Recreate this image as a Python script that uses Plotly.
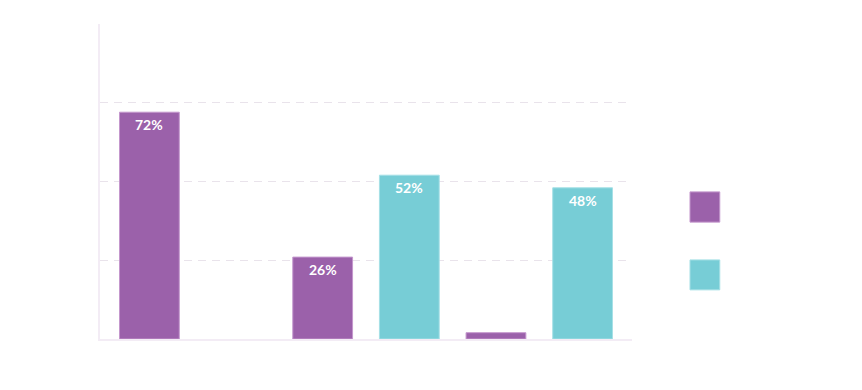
import plotly.graph_objects as go

categories = ["Group A", "Group B", "Group C"]
series1_name = "Series 1"
series1_values = [72, 26, 2]
series1_labels = ["72%", "26%", ""]
series2_name = "Series 2"
series2_values = [None, 52, 48]
series2_labels = ["", "52%", "48%"]
y_ticks = [25, 50, 75]

PURPLE = "#9b61aa"
PURPLE_LINE = "#c497cd"
CYAN = "#77cdd6"
CYAN_LINE = "#a6e0e6"

fig = go.Figure()
fig.add_trace(go.Bar(
    x=categories, y=series1_values, name=series1_name,
    marker=dict(color=PURPLE, line=dict(color=PURPLE_LINE, width=1)),
    showlegend=False,
))
fig.add_trace(go.Bar(
    x=categories, y=series2_values, name=series2_name,
    marker=dict(color=CYAN, line=dict(color=CYAN_LINE, width=1)),
    showlegend=False,
))

# value labels inside top of bars
for offset, vals, labels in [(-0.25, series1_values, series1_labels), (0.25, series2_values, series2_labels)]:
    for i, (v, lab) in enumerate(zip(vals, labels)):
        if v is None or not lab:
            continue
        fig.add_annotation(x=i + offset, y=v, xref="x", yref="y", text=lab,
                           showarrow=False, yanchor="top", yshift=-2,
                           font=dict(color="white", size=14, family="Lato", weight="bold"))

# legend swatches (no visible text in the reference)
for (y0, y1, c, lc) in [(0.371, 0.467, PURPLE, PURPLE_LINE), (0.156, 0.251, CYAN, CYAN_LINE)]:
    fig.add_shape(type="rect", xref="paper", yref="paper",
                  x0=1.109, x1=1.165, y0=y0, y1=y1,
                  fillcolor=c, line=dict(color=lc, width=1))

fig.update_layout(
    width=862, height=390,
    margin=dict(l=100, r=230, t=24, b=51),
    paper_bgcolor="white", plot_bgcolor="white",
    barmode="group", bargap=0, bargroupgap=0.31,
    font=dict(family="Lato", color="#555"),
    xaxis=dict(range=[-0.535, 2.535], showticklabels=False, showgrid=False,
               showline=True, linecolor="#f3ecf5", linewidth=2, zeroline=False, ticks=""),
    yaxis=dict(range=[0, 100], tickvals=y_ticks, showticklabels=False, showgrid=True,
               gridcolor="#e9e3eb", griddash="8px,6px", gridwidth=1,
               showline=True, linecolor="#f3ecf5", linewidth=2, zeroline=False, ticks=""),
)

fig.write_html("out.html")
